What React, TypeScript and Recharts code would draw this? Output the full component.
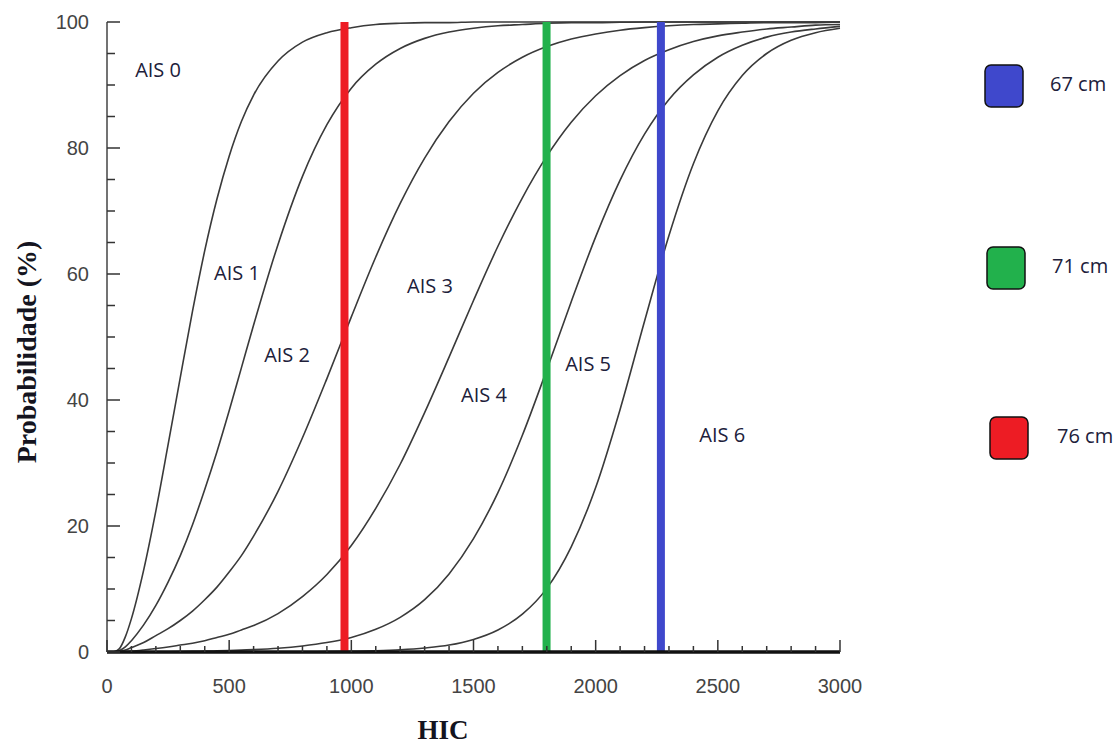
import { LineChart, Line, XAxis, YAxis, ReferenceLine, ReferenceDot, Customized } from 'recharts'

// HIC sample points and probability (%)
const hic = [0, 25, 50, 75, 100, 150, 200, 250, 300, 350, 400, 450, 500, 550, 600, 700, 800, 900, 1000, 1100, 1200, 1300, 1400, 1500, 1600, 1700, 1800, 1900, 2000, 2100, 2200, 2300, 2400, 2500, 2600, 2700, 2800, 2900, 3000]
const ais1 = [0, 0, 0.5, 2.4, 5.3, 13.0, 22.4, 32.9, 43.6, 54.1, 63.7, 71.9, 78.7, 84.2, 88.4, 93.8, 96.8, 98.3, 99.1, 99.6, 99.8, 99.9, 99.9, 100, 100, 100, 100, 100, 100, 100, 100, 100, 100, 100, 100, 100, 100, 100, 100]
const ais2 = [0, 0, 0.2, 0.8, 1.8, 4.3, 7.4, 11.1, 15.3, 20.2, 25.8, 31.8, 38.3, 45.1, 51.9, 64.7, 75.5, 83.7, 89.5, 93.3, 95.8, 97.4, 98.4, 99.0, 99.4, 99.6, 99.8, 99.9, 99.9, 99.95, 100, 100, 100, 100, 100, 100, 100, 100, 100]
const ais3 = [0, 0, 0.07, 0.3, 0.7, 1.5, 2.6, 3.7, 5.0, 6.5, 8.3, 10.3, 12.7, 15.3, 18.4, 25.5, 34.0, 43.4, 53.2, 62.7, 71.2, 78.4, 84.2, 88.7, 92.0, 94.4, 96.1, 97.3, 98.1, 98.7, 99.1, 99.4, 99.6, 99.7, 99.8, 99.9, 99.9, 99.9, 100]
const ais4 = [0, 0, 0.02, 0.07, 0.14, 0.33, 0.55, 0.8, 1.1, 1.4, 1.8, 2.3, 2.8, 3.5, 4.2, 6.1, 8.8, 12.3, 16.9, 22.8, 29.8, 38.0, 46.8, 55.8, 64.4, 72.1, 78.7, 84.1, 88.3, 91.5, 93.9, 95.6, 96.9, 97.8, 98.4, 98.9, 99.2, 99.5, 99.6]
const ais5 = [0, 0, 0, 0, 0.01, 0.02, 0.04, 0.05, 0.08, 0.1, 0.14, 0.18, 0.23, 0.3, 0.38, 0.6, 0.96, 1.5, 2.3, 3.6, 5.5, 8.3, 12.4, 18.0, 25.3, 34.4, 44.8, 55.6, 65.9, 74.9, 82.2, 87.7, 91.6, 94.4, 96.3, 97.6, 98.4, 98.9, 99.3]
const ais6 = [0, 0, 0, 0, 0, 0, 0, 0, 0, 0, 0, 0, 0, 0, 0.01, 0.02, 0.03, 0.06, 0.11, 0.2, 0.36, 0.64, 1.1, 2.0, 3.5, 6.0, 10.1, 16.7, 26.1, 38.5, 52.5, 66.1, 77.5, 85.9, 91.5, 95.0, 97.1, 98.3, 99.0]

const curveKeys = ['ais1', 'ais2', 'ais3', 'ais4', 'ais5', 'ais6']

// vertical HIC marks (76 cm, 71 cm, 67 cm)
const markHic = [972, 1799, 2267]
const markColors = ['#ed1c24', '#22b14c', '#3f48cc']

const legendLabels = ['67 cm', '71 cm', '76 cm']
const legendColors = ['#3f48cc', '#22b14c', '#ed1c24']

const regionLabels = ['AIS 0', 'AIS 1', 'AIS 2', 'AIS 3', 'AIS 4', 'AIS 5', 'AIS 6']
const regionHic = [209, 532, 737, 1322, 1543, 1969, 2518]
const regionProb = [92.4, 60.2, 47.1, 58.1, 40.8, 45.7, 34.4]

const xTicks = [0, 100, 200, 300, 400, 500, 600, 700, 800, 900, 1000, 1100, 1200, 1300, 1400, 1500, 1600, 1700, 1800, 1900, 2000, 2100, 2200, 2300, 2400, 2500, 2600, 2700, 2800, 2900, 3000]
const yTicks = [0, 5, 10, 15, 20, 25, 30, 35, 40, 45, 50, 55, 60, 65, 70, 75, 80, 85, 90, 95, 100]

const data = hic.map((h, i) => ({
  hic: h,
  ais1: ais1[i],
  ais2: ais2[i],
  ais3: ais3[i],
  ais4: ais4[i],
  ais5: ais5[i],
  ais6: ais6[i],
}))

const tickFont = { fontSize: 20, fontFamily: 'Liberation Sans, Arial, sans-serif', fill: '#444' }
const titleFont = { fontFamily: 'Liberation Serif, Times New Roman, serif', fontWeight: 700, fill: '#141420' }
const noteFont = { fontSize: 20, fontFamily: 'Open Sans, sans-serif', fill: '#20203a' }

function BottomTick({ x, y, payload }: any) {
  const major = payload.value % 500 === 0
  return (
    <g>
      <line x1={x} x2={x} y1={y} y2={y - (major ? 12 : 6)} stroke="#333" strokeWidth={1.5} />
      {major && (
        <text x={x} y={y + 41} textAnchor="middle" {...tickFont}>
          {payload.value}
        </text>
      )}
    </g>
  )
}

function TopTick({ x, y, payload }: any) {
  const major = payload.value % 500 === 0
  return <line x1={x} x2={x} y1={y} y2={y + (major ? 12 : 6)} stroke="#333" strokeWidth={1.5} />
}

function LeftTick({ x, y, payload }: any) {
  const major = payload.value % 20 === 0
  return (
    <g>
      <line x1={x} x2={x + (major ? 13 : 8)} y1={y} y2={y} stroke="#333" strokeWidth={1.5} />
      {major && (
        <text x={x - 18} y={y + 7} textAnchor="end" {...tickFont}>
          {payload.value}
        </text>
      )}
    </g>
  )
}

function RightTick({ x, y, payload }: any) {
  const major = payload.value % 20 === 0
  return <line x1={x} x2={x - (major ? 12 : 6)} y1={y} y2={y} stroke="#333" strokeWidth={1.5} />
}

function Decorations() {
  const boxX = [985, 987, 990]
  const boxY = [65, 247, 417]
  const textX = [1050, 1052, 1057]
  return (
    <g>
      <text transform="translate(36,352) rotate(-90)" textAnchor="middle" fontSize={28} {...titleFont}>
        Probabilidade (%)
      </text>
      <text x={443} y={739} textAnchor="middle" fontSize={27} {...titleFont}>
        HIC
      </text>
      {legendLabels.map((lab, i) => (
        <g key={lab}>
          <rect x={boxX[i]} y={boxY[i]} width={38} height={42} rx={6} fill={legendColors[i]} stroke="#111" strokeWidth={1.5} />
          <text x={textX[i]} y={boxY[i] + 26} {...noteFont}>
            {lab}
          </text>
        </g>
      ))}
    </g>
  )
}

export default function App() {
  return (
    <div style={{ position: 'absolute', left: 0, top: 0, background: '#fff' }}>
      <LineChart width={1116} height={744} data={data} margin={{ top: 22, right: 276, bottom: 0, left: 0 }}>
        <XAxis
          dataKey="hic"
          type="number"
          domain={[0, 3000]}
          ticks={xTicks}
          interval={0}
          height={92}
          tickSize={0}
          tickMargin={0}
          tickLine={false}
          axisLine={{ stroke: '#111', strokeWidth: 3.5 }}
          tick={<BottomTick />}
        />
        <XAxis
          xAxisId="top"
          orientation="top"
          type="number"
          domain={[0, 3000]}
          ticks={xTicks}
          interval={0}
          height={0}
          tickSize={0}
          tickMargin={0}
          tickLine={false}
          axisLine={{ stroke: '#222', strokeWidth: 2 }}
          tick={<TopTick />}
        />
        <YAxis
          type="number"
          domain={[0, 100]}
          ticks={yTicks}
          interval={0}
          width={107}
          tickSize={0}
          tickMargin={0}
          tickLine={false}
          axisLine={{ stroke: '#444', strokeWidth: 1.5 }}
          tick={<LeftTick />}
        />
        <YAxis
          yAxisId="right"
          orientation="right"
          type="number"
          domain={[0, 100]}
          ticks={yTicks}
          interval={0}
          width={0}
          tickSize={0}
          tickMargin={0}
          tickLine={false}
          axisLine={{ stroke: '#444', strokeWidth: 1.5 }}
          tick={<RightTick />}
        />
        {curveKeys.map((k) => (
          <Line
            key={k}
            dataKey={k}
            type="monotone"
            stroke="#3a3a3a"
            strokeWidth={1.6}
            dot={false}
            isAnimationActive={false}
          />
        ))}
        {markHic.map((h, i) => (
          <ReferenceLine key={h} x={h} stroke={markColors[i]} strokeWidth={8} />
        ))}
        {regionLabels.map((lab, i) => (
          <ReferenceDot
            key={lab}
            x={regionHic[i]}
            y={regionProb[i]}
            r={1}
            fill="none"
            stroke="none"
            label={{ value: lab, position: 'center', ...noteFont }}
          />
        ))}
        <Customized component={Decorations} />
      </LineChart>
    </div>
  )
}
